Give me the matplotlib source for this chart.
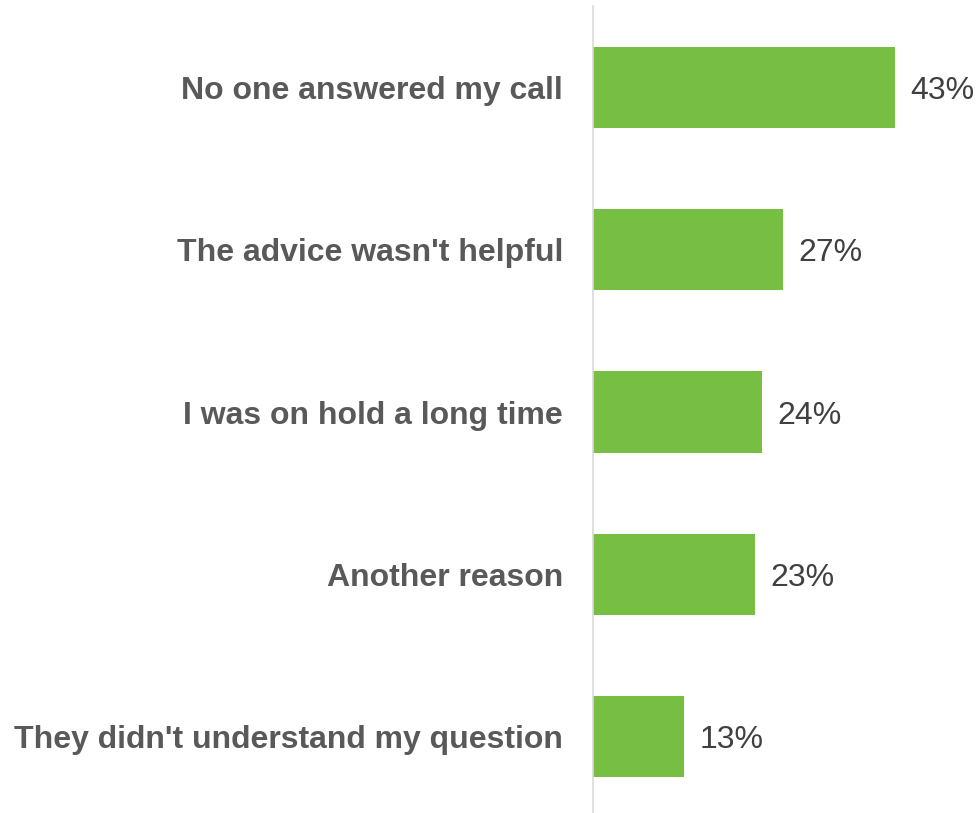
import matplotlib.pyplot as plt

plt.rcParams['font.family'] = ['Liberation Sans', 'DejaVu Sans']

# данные
categories = ["No one answered my call", "The advice wasn't helpful",
              "I was on hold a long time", "Another reason",
              "They didn't understand my question"]
values = [43, 27, 24, 23, 13]

fig = plt.figure(figsize=(9.78, 8.13), dpi=100)
ax = fig.add_axes([593 / 978, -5 / 813, 1 - 593 / 978, 812 / 813])

pos = list(range(len(categories)))
ax.barh(pos, values, height=0.5, color='#76BF43')
ax.set_ylim(len(categories) - 0.5, -0.5)
ax.set_xlim(0, 54.8)

ax.set_yticks(pos)
ax.set_yticklabels(categories, fontsize=23, fontweight='bold', color='#595959')
ax.tick_params(axis='y', length=0, pad=21.5)
ax.set_xticks([])

for s in ['top', 'right', 'bottom']:
    ax.spines[s].set_visible(False)
ax.spines['left'].set_color('#D9D9D9')
ax.spines['left'].set_linewidth(1.2)

for p, v in zip(pos, values):
    ax.text(v + 2.2, p, f"{v}%", va='center_baseline', ha='left', fontsize=23, color='#404040')

fig.savefig('out.png', dpi=100)
